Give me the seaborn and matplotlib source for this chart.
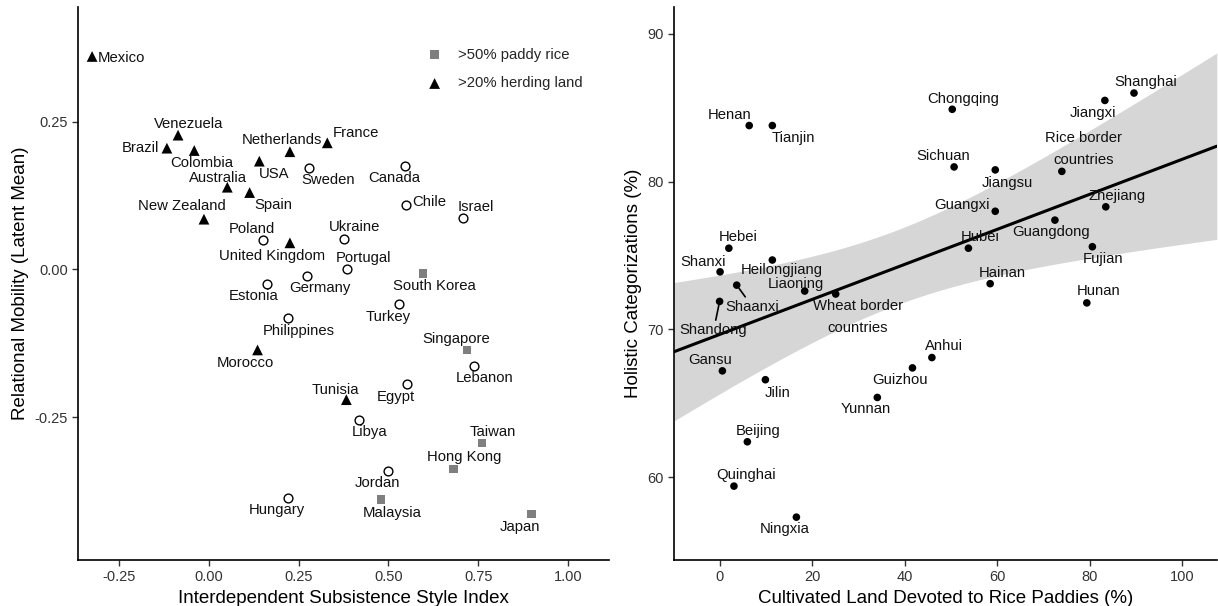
import numpy as np
import pandas as pd
import matplotlib
matplotlib.use("Agg")
import matplotlib.pyplot as plt
import seaborn as sns

# ---- left panel: countries ----
countries = ["Mexico", "Venezuela", "Brazil", "Colombia", "USA", "Netherlands", "France",
             "Australia", "Spain", "New Zealand", "United Kingdom", "Morocco", "Tunisia",
             "Sweden", "Canada", "Chile", "Israel", "Poland", "Ukraine", "Portugal",
             "Germany", "Estonia", "Turkey", "Philippines", "Lebanon", "Egypt", "Libya",
             "Jordan", "Hungary",
             "South Korea", "Singapore", "Taiwan", "Hong Kong", "Malaysia", "Japan"]
subsistence = [-0.324, -0.085, -0.116, -0.040, 0.141, 0.226, 0.330,
               0.052, 0.114, -0.013, 0.226, 0.136, 0.383,
               0.278, 0.547, 0.549, 0.707, 0.150, 0.376, 0.384,
               0.274, 0.162, 0.529, 0.220, 0.737, 0.552, 0.417,
               0.500, 0.221,
               0.596, 0.719, 0.761, 0.681, 0.479, 0.898]
mobility = [0.360, 0.227, 0.205, 0.201, 0.183, 0.199, 0.214,
            0.139, 0.130, 0.085, 0.045, -0.136, -0.220,
            0.171, 0.175, 0.109, 0.087, 0.050, 0.052, 0.000,
            -0.011, -0.024, -0.059, -0.082, -0.163, -0.193, -0.255,
            -0.340, -0.386,
            -0.007, -0.136, -0.293, -0.337, -0.389, -0.413]
group = ["herd"] * 13 + ["other"] * 16 + ["rice"] * 6

# ---- right panel: Chinese provinces ----
provinces = ["Shanghai", "Jiangxi", "Chongqing", "Henan", "Tianjin", "Sichuan", "Jiangsu",
             "Rice border\ncountries", "Zhejiang", "Guangxi", "Guangdong", "Hubei", "Fujian",
             "Hebei", "Heilongjiang", "Shanxi", "Shaanxi", "Liaoning", "Wheat border\ncountries",
             "Hainan", "Hunan", "Shandong", "Gansu", "Jilin", "Anhui", "Guizhou", "Yunnan",
             "Beijing", "Quinghai", "Ningxia"]
rice_pct = [89.6, 83.3, 50.3, 6.4, 11.4, 50.7, 59.6,
            74.0, 83.5, 59.6, 72.5, 53.8, 80.6,
            2.0, 11.4, 0.1, 3.7, 18.4, 25.1,
            58.5, 79.4, 0.0, 0.6, 9.9, 45.9, 41.7, 34.1,
            6.0, 3.1, 16.6]
holistic = [86.0, 85.5, 84.9, 83.8, 83.8, 81.0, 80.8,
            80.7, 78.3, 78.0, 77.4, 75.5, 75.6,
            75.5, 74.7, 73.9, 73.0, 72.6, 72.4,
            73.1, 71.8, 71.9, 67.2, 66.6, 68.1, 67.4, 65.4,
            62.4, 59.4, 57.3]

left_df = pd.DataFrame({"country": countries, "x": subsistence, "y": mobility, "group": group})
right_df = pd.DataFrame({"prov": provinces, "x": rice_pct, "y": holistic})

# label offsets in pixels (dx right, dy down), optional alignment
left_off = {
    "Mexico": (6, 2, "left"), "Venezuela": (11, -11), "Brazil": (-8, 0, "right"),
    "Colombia": (8, 12), "USA": (15, 13), "Netherlands": (-8, -12), "France": (29, -10),
    "Australia": (-9, -9), "Spain": (24, 12), "New Zealand": (-22, -13),
    "United Kingdom": (-18, 13), "Sweden": (20, 12), "Canada": (-11, 12),
    "Chile": (6, -3, "left"), "Israel": (13, -11), "Poland": (-11, -11),
    "Ukraine": (11, -12), "Portugal": (17, -11), "Germany": (13, 12),
    "Estonia": (-13, 12), "South Korea": (11, 12), "Turkey": (-11, 13),
    "Philippines": (11, 13), "Morocco": (-12, 13), "Singapore": (-11, -11),
    "Lebanon": (11, 12), "Egypt": (-11, 13), "Tunisia": (-11, -10), "Libya": (11, 12),
    "Taiwan": (11, -11), "Hong Kong": (11, -12), "Jordan": (-11, 12),
    "Hungary": (-11, 12), "Malaysia": (11, 13), "Japan": (-12, 13),
}
right_off = {
    "Shanghai": (12, -11), "Jiangxi": (-12, 13), "Chongqing": (11, -10),
    "Henan": (-20, -11), "Tianjin": (21, 12), "Sichuan": (-11, -11), "Jiangsu": (12, 13),
    "Rice border\ncountries": (22, -22), "Zhejiang": (11, -11), "Guangxi": (-33, -6),
    "Guangdong": (-4, 12), "Hubei": (12, -11), "Fujian": (11, 12), "Hebei": (9, -11),
    "Heilongjiang": (9, 10), "Shanxi": (-17, -10), "Shaanxi": (16, 22),
    "Liaoning": (-9, -7), "Wheat border\ncountries": (22, 23), "Hainan": (12, -11),
    "Hunan": (12, -12), "Shandong": (-6, 29), "Gansu": (-12, -11), "Jilin": (12, 13),
    "Anhui": (12, -12), "Guizhou": (-12, 12), "Yunnan": (-12, 12), "Beijing": (11, -11),
    "Quinghai": (12, -11), "Ningxia": (-12, 12),
}
connectors = {"Shaanxi", "Shandong"}

sns.set_style("ticks")
plt.rcParams["font.family"] = ["Liberation Sans", "DejaVu Sans"]

fig = plt.figure(figsize=(12.18, 6.06), dpi=100)
ax1 = fig.add_axes([0.0644, 0.0759, 0.4358, 0.912])
ax2 = fig.add_axes([0.5536, 0.0759, 0.4454, 0.912])

lab_fs = 10.7
tick_fs = 10.5
title_fs = 13.5

# left scatter
other = left_df[left_df.group == "other"]
rice = left_df[left_df.group == "rice"]
herd = left_df[left_df.group == "herd"]
sns.scatterplot(data=other, x="x", y="y", marker="o", s=40, facecolor="white",
                edgecolor="black", linewidth=1.0, ax=ax1, legend=False, zorder=3)
sns.scatterplot(data=rice, x="x", y="y", marker="s", s=36, color="#7f7f7f",
                edgecolor="none", ax=ax1, label=">50% paddy rice", zorder=3)
sns.scatterplot(data=herd, x="x", y="y", marker="^", s=60, color="black",
                edgecolor="none", ax=ax1, label=">20% herding land", zorder=3)

for _, r in left_df.iterrows():
    off = left_off[r.country]
    ha = off[2] if len(off) > 2 else "center"
    ax1.annotate(r.country, (r.x, r.y), xytext=(off[0], -off[1]), textcoords="offset pixels",
                 ha=ha, va="center", fontsize=lab_fs, color="#111111", zorder=4)

ax1.set_xlim(-0.362, 1.114)
ax1.set_ylim(-0.491, 0.443)
ax1.set_xticks([-0.25, 0, 0.25, 0.5, 0.75, 1.0])
ax1.set_xticklabels(["-0.25", "0.00", "0.25", "0.50", "0.75", "1.00"])
ax1.set_yticks([-0.25, 0, 0.25])
ax1.set_yticklabels(["-0.25", "0.00", "0.25"])
ax1.set_xlabel("Interdependent Subsistence Style Index", fontsize=title_fs)
ax1.set_ylabel("Relational Mobility (Latent Mean)", fontsize=title_fs)
ax1.legend(loc="upper left", bbox_to_anchor=(0.643, 0.938), frameon=False, fontsize=lab_fs,
           handletextpad=1.0, labelspacing=1.0, handlelength=1.2, borderaxespad=0)

# right panel: fitted line from seaborn, 95% band from the usual linear-model formula
xlo, xhi = -9.8, 107.5
ax2.set_xlim(xlo, xhi)
sns.regplot(data=right_df, x="x", y="y", scatter=False, truncate=False, ci=None,
            color="black", line_kws={"lw": 2.2, "zorder": 2}, ax=ax2)
xv = np.asarray(rice_pct)
yv = np.asarray(holistic)
n = len(xv)
b1, b0 = np.polyfit(xv, yv, 1)
resid = yv - (b0 + b1 * xv)
s_err = np.sqrt(np.sum(resid ** 2) / (n - 2))
sxx = np.sum((xv - xv.mean()) ** 2)
grid = np.linspace(xlo, xhi, 200)
fit = b0 + b1 * grid
half = 2.048 * s_err * np.sqrt(1 / n + (grid - xv.mean()) ** 2 / sxx)  # t(0.975, 28)
ax2.fill_between(grid, fit - half, fit + half, color="#d6d6d6", lw=0, zorder=1)

sns.scatterplot(data=right_df, x="x", y="y", s=30, color="black", edgecolor="none",
                ax=ax2, legend=False, zorder=3)
for _, r in right_df.iterrows():
    dx, dy = right_off[r.prov]
    if r.prov in connectors:
        ax2.annotate(r.prov, (r.x, r.y), xytext=(dx, -dy), textcoords="offset pixels",
                     ha="center", va="center", fontsize=lab_fs, color="#111111", zorder=4,
                     arrowprops=dict(arrowstyle="-", lw=1.2, color="black",
                                     shrinkA=0, shrinkB=3))
    else:
        ax2.annotate(r.prov, (r.x, r.y), xytext=(dx, -dy), textcoords="offset pixels",
                     ha="center", va="center", fontsize=lab_fs, color="#111111", zorder=4,
                     linespacing=1.75)
ax2.set_xlim(xlo, xhi)
ax2.set_ylim(54.4, 91.8)
ax2.set_xticks([0, 20, 40, 60, 80, 100])
ax2.set_yticks([60, 70, 80, 90])
ax2.set_xlabel("Cultivated Land Devoted to Rice Paddies (%)", fontsize=title_fs)
ax2.set_ylabel("Holistic Categorizations (%)", fontsize=title_fs)

for ax in (ax1, ax2):
    sns.despine(ax=ax)
    for sp in ("left", "bottom"):
        ax.spines[sp].set_linewidth(1.2)
        ax.spines[sp].set_color("black")
    ax.tick_params(labelsize=tick_fs, colors="#333333", length=4, width=1, labelcolor="#333333")
    ax.xaxis.label.set_color("black")
    ax.yaxis.label.set_color("black")

fig.savefig("out.png", dpi=100)
